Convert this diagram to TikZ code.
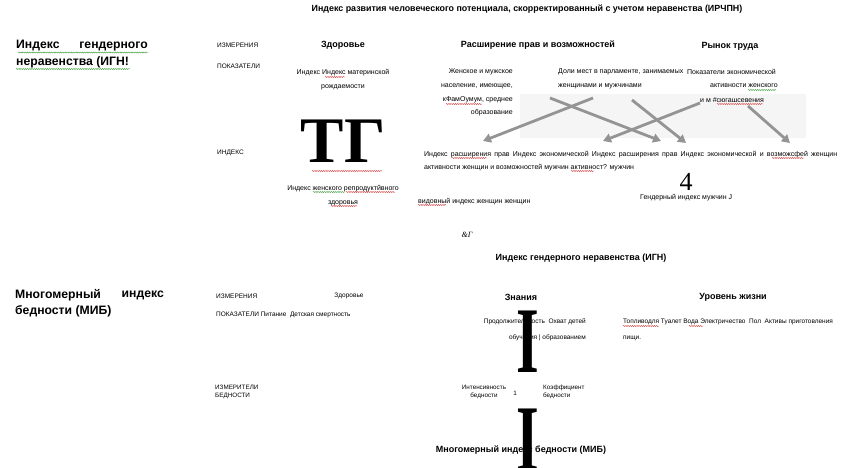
\documentclass[tikz,border=0pt]{standalone}
\usepackage{graphicx}
\usepackage{fontspec}
\setmainfont{Liberation Sans}
\newfontfamily\glyphserif{Liberation Serif}
\usetikzlibrary{arrows.meta,decorations.pathmorphing}
\definecolor{arrgray}{gray}{0.58}
\definecolor{bandgray}{gray}{0.96}
\definecolor{spellred}{RGB}{215,70,70}
\definecolor{spellgreen}{RGB}{70,160,70}
\tikzset{
  sm/.style={font=\fontsize{7}{14}\selectfont, inner sep=0pt},
  tinytx/.style={font=\fontsize{6.5}{8}\selectfont, inner sep=0pt},
  hd/.style={font=\bfseries\fontsize{9}{11}\selectfont, inner sep=0pt},
  heavy/.style={font=\bfseries\fontsize{12.2}{14}\selectfont, inner sep=0pt},
  garrow/.style={draw=arrgray, line width=2.8pt, -{Triangle[length=8pt,width=9pt]}},
  wavyr/.style={draw=spellred, line width=0.45pt, decorate, decoration={snake,amplitude=0.55pt,segment length=2.2pt}},
  wavyg/.style={draw=spellgreen, line width=0.45pt, decorate, decoration={snake,amplitude=0.55pt,segment length=2.2pt}},
  bigI/.style={inner sep=0pt, anchor=base, font=\glyphserif\bfseries\fontsize{94}{94}\selectfont},
}
\begin{document}
\begin{tikzpicture}[x=1pt,y=-1pt]
\path[use as bounding box, fill=white] (0,0) rectangle (844,468);

% gray band behind arrows (drawn first so that texts stay on top)
\fill[bandgray] (520,94) rectangle (806,138);

% ---------- upper block ----------
\node[hd, font=\bfseries\fontsize{8.9}{10}\selectfont] (title) at (527,9)
  {Индекс развития человеческого потенциала, скорректированный с учетом неравенства (ИРЧПН)};

\node[heavy, anchor=west] (ignA) at (16,46) {Индекс};
\node[heavy, anchor=east] (ignB) at (148,46) {гендерного};
\node[heavy, anchor=west] (ignC) at (16,62) {неравенства (ИГН!};

\node[tinytx, anchor=west] (izm1) at (217,45) {ИЗМЕРЕНИЯ};
\node[tinytx, anchor=west] (pok1) at (217,66) {ПОКАЗАТЕЛИ};
\node[tinytx, anchor=west] (ind1) at (217,153) {ИНДЕКС};

\node[hd] (zdor1) at (343,45) {Здоровье};
\node[hd] (rasp) at (538,45) {Расширение прав и возможностей};
\node[hd] (rynok) at (730,46) {Рынок труда};

\node[sm, align=center] (mat) at (343,80) {Индекс Индекс материнской\\рождаемости};

\node[sm, align=right, anchor=east, font=\fontsize{7}{13.7}\selectfont] (obraz) at (513,92.5)
  {Женское и мужское\\население, имеющее,\\кФамОумум, среднее\\образование};
\node[sm, align=left, anchor=west] (doli) at (558,79) {Доли мест в парламенте, занимаемых\\женщинами и мужчинами};
\node[sm, anchor=west] (pokE) at (687,72) {Показатели экономической};
\node[sm, anchor=west] (aktE) at (710,86) {активности женского};
\node[sm, anchor=west] (imE) at (700,100) {и м \#сюгашсевения};

\coordinate (a1s) at (593,98);  \coordinate (a1e) at (483,141);
\coordinate (a2s) at (550,98);  \coordinate (a2e) at (661,141);
\coordinate (a3s) at (632,100); \coordinate (a3e) at (686,143);
\coordinate (a4s) at (700,103); \coordinate (a4e) at (603,141);
\coordinate (a5s) at (748,106); \coordinate (a5e) at (790,143);
\draw[garrow] (a1s) -- (a1e);
\draw[garrow] (a2s) -- (a2e);
\draw[garrow] (a3s) -- (a3e);
\draw[garrow] (a4s) -- (a4e);
\draw[garrow] (a5s) -- (a5e);

\node[inner sep=0pt, anchor=base, font=\glyphserif\bfseries\fontsize{65}{65}\selectfont] (TG) at (343,163) {ТГ};
\node[sm, align=center, font=\fontsize{7}{14}\selectfont] (repr) at (343,196) {Индекс женского репродуктйвного\\здоровья};

\node[sm, anchor=north west, text width=413pt, align=justify, font=\fontsize{7}{13}\selectfont] (indrow) at (424,151)
  {Индекс расширения прав Индекс экономической Индекс расширения прав Индекс экономической и возможсфей женщин активности женщин и возможностей мужчин активност? мужчин};

\node[inner sep=0pt, anchor=base, font=\glyphserif\fontsize{26}{26}\selectfont] (four) at (686,190) {4};
\node[sm, anchor=west] (gendm) at (640,198) {Гендерный индекс мужчин J};
\node[sm, anchor=west] (vidov) at (418,202) {видовный индекс женщин женщин};
\node[inner sep=0pt, font=\glyphserif\itshape\fontsize{8}{9}\selectfont] (ampG) at (467,235) {\&Г};

% spelling underlines (upper)
\draw[wavyg] (18,52.5) -- (148,52.5);
\draw[wavyg] (16,69) -- (130,69);
\draw[wavyr] (325,77) -- (345,77);
\draw[wavyr] (446,104) -- (482,104);
\draw[wavyg] (748,90) -- (776,90);
\draw[wavyr] (717,104) -- (763,104);
\draw[wavyr] (312,171) -- (382,171);
\draw[wavyg] (313,192) -- (345,192);
\draw[wavyr] (346,192) -- (395,192);
\draw[wavyr] (331,206) -- (357,206);
\draw[wavyr] (452,158) -- (487,158);
\draw[wavyr] (772,158) -- (804,158);
\draw[wavyr] (571,171) -- (594,171);
\draw[wavyr] (418,205) -- (446,205);

% ---------- lower block ----------
\node[hd] (ignT) at (581,258) {Индекс гендерного неравенства (ИГН)};

\node[heavy, anchor=west] (mibA) at (15,295) {Многомерный};
\node[heavy, anchor=east] (mibB) at (164,295) {индекс};
\node[heavy, anchor=west] (mibC) at (15,311) {бедности (МИБ)};

\node[tinytx, anchor=west] (izm2) at (216,296) {ИЗМЕРЕНИЯ};
\node[tinytx] (zdor2) at (349,296) {Здоровье};
\node[tinytx, anchor=west] (pok2) at (216,315) {ПОКАЗАТЕЛИ Питание\ \ Детская смертность};

\node[hd] (znan) at (521,297) {Знания};
\node[hd] (urov) at (733,297) {Уровень жизни};

\node[tinytx, align=right, anchor=east, font=\fontsize{6.5}{16}\selectfont] (prod) at (586,330)
  {Продолжительность\ \ Охват детей\\обучения | образованием};
\node[tinytx, align=left, anchor=west, font=\fontsize{6.5}{16}\selectfont] (topl) at (623,330)
  {Топливодля Туалет Вода Электричество\ \ Пол\ \ Активы приготовления\\пищи.};
\draw[wavyr] (623,326) -- (659,326);
\draw[wavyr] (689,326) -- (703,326);

\node[tinytx, align=left, anchor=west, font=\fontsize{6.3}{8}\selectfont] (izmB) at (215,392) {ИЗМЕРИТЕЛИ\\БЕДНОСТИ};
\node[tinytx, align=center, font=\fontsize{6.3}{8}\selectfont] (intens) at (484,392) {Интенсивность\\бедности};
\node[tinytx, font=\fontsize{6.3}{8}\selectfont] (one) at (515,393) {1};
\node[tinytx, align=left, anchor=west, font=\fontsize{6.3}{8}\selectfont] (koef) at (543,392) {Коэффициент\\бедности};

\node[hd] (mibT) at (521,450) {Многомерный индекс бедности (МИБ)};

\node[bigI] (iA) at (527.5,372) {\scalebox{0.62}[1]{I}};
\node[bigI] (iB) at (527.5,470) {\scalebox{0.62}[1]{I}};
\end{tikzpicture}
\end{document}
